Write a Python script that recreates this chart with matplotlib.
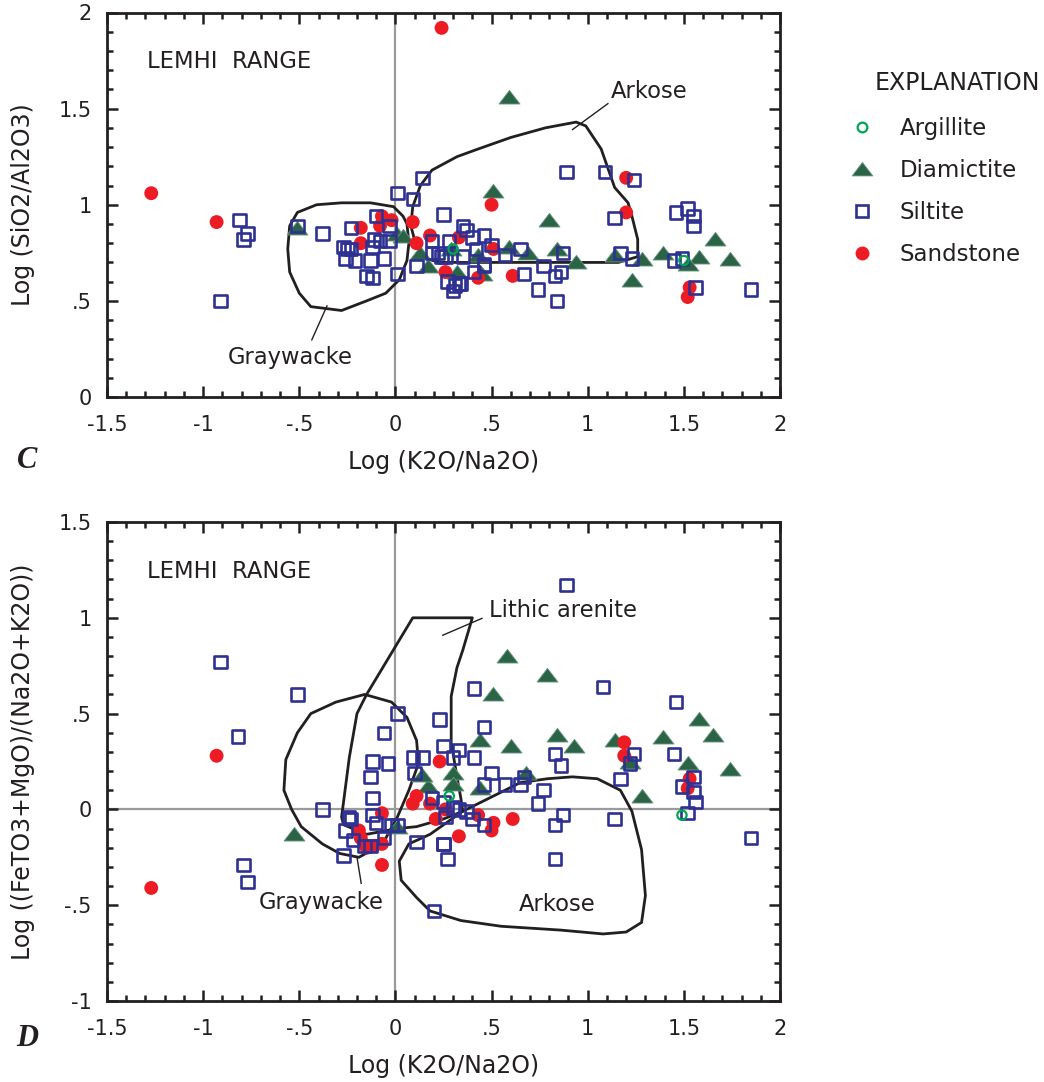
import numpy as np
import matplotlib.pyplot as plt
from matplotlib.lines import Line2D
from matplotlib.patches import Polygon
from matplotlib.ticker import MultipleLocator

plt.rcParams["font.family"] = ["DejaVu Sans"]

INK = "#231f20"
GRID = "#9a9a9a"
SILT = "#2e3192"
SAND = "#ed1c24"
DIAM = "#2b6347"
ARGI = "#00a651"

x_ticks = [-1.5, -1, -0.5, 0, 0.5, 1, 1.5, 2]
x_tick_labels = ["-1.5", "-1", "-.5", "0", ".5", "1", "1.5", "2"]
c_yticks = [0, 0.5, 1, 1.5, 2]
c_ytick_labels = ["0", ".5", "1", "1.5", "2"]
d_yticks = [-1, -0.5, 0, 0.5, 1, 1.5]
d_ytick_labels = ["-1", "-.5", "0", ".5", "1", "1.5"]

# --- panel C: log(K2O/Na2O) vs log(SiO2/Al2O3) ---
c_sand_x = [-1.27, -0.93, 0.24, 1.20, 1.20, 0.50, 0.09, 0.18, 0.33, 0.11, 0.51,
            0.26, 0.43, 0.61, 1.53, 1.52, -0.18, -0.07, -0.02, -0.08, -0.18]
c_sand_y = [1.06, 0.91, 1.92, 1.14, 0.96, 1.00, 0.91, 0.84, 0.83, 0.80, 0.77,
            0.65, 0.62, 0.63, 0.57, 0.52, 0.88, 0.94, 0.92, 0.89, 0.80]

c_silt_x = [-0.81, -0.77, -0.79, -0.91, -0.51, -0.38, -0.23, -0.27, -0.25, -0.23,
            -0.26, -0.21, -0.13, -0.06, -0.10, -0.03, -0.11, -0.08, -0.03, -0.12,
            -0.15, -0.12, 0.01, 0.01, 0.09, 0.14, 0.25, 0.11, 0.19, 0.22,
            0.26, 0.27, 0.31, 0.30, 0.34, 0.35, 0.37, 0.40, 0.46, 0.50,
            0.42, 0.35, 0.46, 0.41, 0.28, 0.24, 0.33, 0.57, 0.65, 0.67,
            0.74, 0.77, 0.83, 0.86, 0.84, 0.87, 0.89, 1.09, 1.24, 1.14,
            1.17, 1.23, 1.46, 1.52, 1.55, 1.55, 1.45, 1.49, 1.56, 1.85,
            0.19, 0.46]
c_silt_y = [0.92, 0.85, 0.82, 0.50, 0.89, 0.85, 0.88, 0.78, 0.77, 0.77,
            0.72, 0.71, 0.71, 0.72, 0.94, 0.89, 0.82, 0.81, 0.81, 0.78,
            0.63, 0.62, 0.64, 1.06, 1.03, 1.14, 0.95, 0.68, 0.81, 0.75,
            0.73, 0.60, 0.58, 0.55, 0.59, 0.89, 0.87, 0.83, 0.84, 0.79,
            0.77, 0.73, 0.69, 0.65, 0.81, 0.73, 0.59, 0.74, 0.77, 0.64,
            0.56, 0.68, 0.63, 0.65, 0.50, 0.75, 1.17, 1.17, 1.13, 0.93,
            0.75, 0.72, 0.96, 0.98, 0.94, 0.89, 0.71, 0.72, 0.57, 0.56,
            0.75, 0.68]

c_diam_x = [-0.51, 0.01, 0.04, 0.13, 0.17, 0.29, 0.32, 0.43, 0.45, 0.51, 0.59,
            0.59, 0.69, 0.84, 0.94, 0.80, 1.14, 1.28, 1.23, 1.39, 1.58, 1.52,
            1.66, 1.74]
c_diam_y = [0.88, 0.85, 0.84, 0.75, 0.68, 0.77, 0.65, 0.74, 0.64, 1.07, 1.56,
            0.78, 0.75, 0.77, 0.70, 0.92, 0.74, 0.72, 0.61, 0.75, 0.73, 0.69,
            0.82, 0.72]

c_argi_x = [0.30, 1.50]
c_argi_y = [0.77, 0.71]

c_graywacke_x = [-0.51, -0.41, -0.28, -0.13, -0.01, 0.04, 0.06, 0.07, 0.06, 0.02,
                 -0.05, -0.15, -0.28, -0.44, -0.50, -0.55, -0.56, -0.55]
c_graywacke_y = [0.96, 1.00, 1.01, 1.01, 0.99, 0.94, 0.90, 0.80, 0.71, 0.61,
                 0.54, 0.50, 0.45, 0.47, 0.54, 0.65, 0.77, 0.89]
c_arkose_x = [0.16, 0.11, 0.08, 0.09, 0.13, 0.19, 0.32, 0.43, 0.60, 0.78, 0.94,
              0.99, 1.07, 1.14, 1.21, 1.23, 1.26, 1.26, 1.16, 0.28, 0.23]
c_arkose_y = [0.72, 0.78, 0.89, 0.99, 1.10, 1.18, 1.25, 1.29, 1.35, 1.40, 1.43,
              1.41, 1.29, 1.09, 1.01, 0.94, 0.82, 0.73, 0.70, 0.70, 0.70]

# --- panel D: log(K2O/Na2O) vs log((FeTO3+MgO)/(Na2O+K2O)) ---
d_sand_x = [-1.27, -0.93, 0.23, 0.11, 0.09, 0.18, 0.21, 0.26, 0.33, -0.07,
            -0.19, -0.18, -0.15, -0.11, -0.07, -0.07, 0.43, 0.51, 0.50, 0.61,
            1.19, 1.19, 1.53, 1.52]
d_sand_y = [-0.41, 0.28, 0.25, 0.07, 0.03, 0.03, -0.05, 0.00, -0.14, -0.02,
            -0.11, -0.15, -0.20, -0.19, -0.18, -0.29, -0.03, -0.07, -0.11, -0.05,
            0.35, 0.28, 0.16, 0.11]

d_silt_x = [-0.91, -0.82, -0.51, -0.79, -0.77, -0.38, 0.01, -0.06, -0.12, -0.04,
            -0.13, -0.12, -0.12, -0.10, -0.24, -0.23, -0.26, -0.22, -0.27, -0.16,
            -0.13, -0.06, 0.01, -0.02, 0.11, 0.25, 0.27, 0.23, 0.41, 0.46,
            0.25, 0.33, 0.09, 0.14, 0.10, 0.30, 0.41, 0.50, 0.46, 0.57,
            0.19, 0.25, 0.30, 0.33, 0.37, 0.26, 0.40, 0.46, 0.20, 0.89,
            1.08, 1.46, 0.83, 0.86, 1.24, 1.22, 1.45, 1.17, 1.49, 1.55,
            1.55, 1.56, 1.52, 0.65, 0.67, 0.77, 0.74, 0.87, 0.83, 1.14,
            1.85, 0.25, 0.83]
d_silt_y = [0.77, 0.38, 0.60, -0.29, -0.38, 0.00, 0.50, 0.40, 0.25, 0.24,
            0.17, 0.06, -0.03, -0.07, -0.04, -0.05, -0.11, -0.16, -0.24, -0.19,
            -0.19, -0.15, -0.08, -0.08, -0.17, -0.18, -0.26, 0.47, 0.63, 0.43,
            0.33, 0.31, 0.27, 0.27, 0.19, 0.27, 0.27, 0.19, 0.13, 0.13,
            0.06, 0.04, 0.01, 0.00, -0.01, -0.04, -0.05, -0.08, -0.53, 1.17,
            0.64, 0.56, 0.29, 0.23, 0.29, 0.24, 0.29, 0.16, 0.12, 0.17,
            0.09, 0.04, -0.02, 0.13, 0.17, 0.10, 0.03, -0.03, -0.08, -0.05,
            -0.15, -0.18, -0.26]

d_diam_x = [-0.53, 0.01, 0.58, 0.79, 0.51, 0.44, 0.60, 0.84, 0.93, 1.14,
            1.39, 1.58, 1.65, 1.74, 1.52, 1.22, 1.28, 0.68, 0.30, 0.30,
            0.44, 0.17, 0.14]
d_diam_y = [-0.13, -0.09, 0.80, 0.70, 0.60, 0.36, 0.33, 0.39, 0.33, 0.36,
            0.38, 0.47, 0.39, 0.21, 0.24, 0.25, 0.07, 0.19, 0.19, 0.13,
            0.11, 0.12, 0.18]

d_argi_x = [0.28, 1.49]
d_argi_y = [0.07, -0.03]

d_graywacke_x = [-0.16, -0.02, 0.06, 0.11, 0.12, 0.07, 0.01, -0.05, -0.10, -0.19,
                 -0.29, -0.38, -0.49, -0.54, -0.58, -0.57, -0.51, -0.44, -0.31]
d_graywacke_y = [0.60, 0.56, 0.48, 0.36, 0.24, 0.10, -0.04, -0.15, -0.20, -0.25,
                 -0.23, -0.18, -0.09, 0.00, 0.10, 0.26, 0.40, 0.50, 0.56]
d_lithic_x = [0.09, 0.40, 0.35, 0.32, 0.29, 0.29, 0.32, 0.34, 0.35, 0.25,
              0.11, 0.01, -0.15, -0.27, -0.28, -0.24, -0.20, -0.15]
d_lithic_y = [1.00, 1.00, 0.83, 0.74, 0.59, 0.35, 0.17, 0.06, -0.01, -0.05,
              -0.09, -0.10, -0.13, -0.08, -0.04, 0.27, 0.50, 0.60]
d_arkose_x = [0.07, 0.18, 0.35, 0.49, 0.65, 0.79, 0.92, 1.05, 1.17, 1.23,
              1.28, 1.30, 1.28, 1.20, 1.08, 0.86, 0.55, 0.34, 0.18, 0.11,
              0.03, 0.02]
d_arkose_y = [-0.18, -0.13, -0.01, 0.06, 0.14, 0.16, 0.17, 0.16, 0.10, -0.01,
              -0.21, -0.45, -0.59, -0.64, -0.65, -0.63, -0.61, -0.58, -0.53, -0.46,
              -0.37, -0.27]

# flattened triangle used for the diamictite symbol
TRI = [(-1.0, -0.62), (1.0, -0.62), (0.0, 0.68), (-1.0, -0.62)]
LABEL_FS = 16.3
AXIS_FS = 17


def _field(ax, xs, ys):
    ax.add_patch(Polygon(np.column_stack([xs, ys]), closed=True, fill=False,
                         ec=INK, lw=2.0, joinstyle="round", zorder=2))


def _points(ax, sx, sy, tx, ty, qx, qy, ax_, ay_):
    ax.scatter(tx, ty, marker=TRI, s=230, c=DIAM, edgecolors="#6f9a84",
               linewidths=0.6, zorder=3)
    ax.scatter(sx, sy, marker="o", s=100, c=SAND, edgecolors="none", zorder=4)
    ax.scatter(qx, qy, marker="s", s=80, facecolors="none", edgecolors=SILT,
               linewidths=1.9, zorder=5)
    ax.scatter(ax_, ay_, marker="o", s=45, facecolors="none", edgecolors=ARGI,
               linewidths=1.6, zorder=6)


def _style(ax, ylim, yticks, ylabels, ylabel):
    ax.set_xlim(-1.5, 2)
    ax.set_ylim(*ylim)
    ax.set_xticks(x_ticks)
    ax.set_xticklabels(x_tick_labels)
    ax.set_yticks(yticks)
    ax.set_yticklabels(ylabels)
    ax.xaxis.set_minor_locator(MultipleLocator(0.1))
    ax.yaxis.set_minor_locator(MultipleLocator(0.1))
    ax.tick_params(which="both", direction="in", top=True, right=True,
                   width=1.8, color=INK, labelcolor=INK, labelsize=15)
    ax.tick_params(axis="x", pad=13)
    ax.tick_params(axis="y", pad=11)
    ax.tick_params(which="major", length=8)
    ax.tick_params(which="minor", length=4.5)
    for sp in ax.spines.values():
        sp.set_linewidth(2.0)
        sp.set_color(INK)
    ax.axvline(0, color=GRID, lw=1.6, zorder=1)
    ax.set_xlabel("Log (K2O/Na2O)", fontsize=AXIS_FS, color=INK, labelpad=11)
    ax.set_ylabel(ylabel, fontsize=AXIS_FS, color=INK, labelpad=17)


fig = plt.figure(figsize=(10.44, 10.82), dpi=100)
ax_c = fig.add_axes([107 / 1044, 1 - 397 / 1082, 673 / 1044, 384.5 / 1082])
ax_d = fig.add_axes([107 / 1044, 1 - 1001 / 1082, 673 / 1044, 479 / 1082])

# panel C
_style(ax_c, (0, 2), c_yticks, c_ytick_labels, "Log (SiO2/Al2O3)")
_field(ax_c, c_graywacke_x, c_graywacke_y)
_field(ax_c, c_arkose_x, c_arkose_y)
_points(ax_c, c_sand_x, c_sand_y, c_diam_x, c_diam_y, c_silt_x, c_silt_y,
        c_argi_x, c_argi_y)
ax_c.text(-1.29, 1.745, "LEMHI  RANGE", fontsize=LABEL_FS, color=INK, va="center")
ax_c.text(-0.545, 0.205, "Graywacke", fontsize=LABEL_FS, color=INK, ha="center", va="center")
ax_c.plot([-0.435, -0.356], [0.297, 0.474], color=INK, lw=1.0, zorder=2)
ax_c.text(1.32, 1.59, "Arkose", fontsize=LABEL_FS, color=INK, ha="center", va="center")
ax_c.plot([1.105, 0.921], [1.526, 1.391], color=INK, lw=1.0, zorder=2)

# panel D
_style(ax_d, (-1, 1.5), d_yticks, d_ytick_labels, "Log ((FeTO3+MgO)/(Na2O+K2O))")
ax_d.axhline(0, color=GRID, lw=1.6, zorder=1)
_field(ax_d, d_graywacke_x, d_graywacke_y)
_field(ax_d, d_lithic_x, d_lithic_y)
_field(ax_d, d_arkose_x, d_arkose_y)
_points(ax_d, d_sand_x, d_sand_y, d_diam_x, d_diam_y, d_silt_x, d_silt_y,
        d_argi_x, d_argi_y)
ax_d.text(-1.29, 1.243, "LEMHI  RANGE", fontsize=LABEL_FS, color=INK, va="center")
ax_d.text(0.487, 1.039, "Lithic arenite", fontsize=LABEL_FS, color=INK, va="center")
ax_d.plot([0.45, 0.246], [0.997, 0.909], color=INK, lw=1.0, zorder=2)
ax_d.text(-0.387, -0.486, "Graywacke", fontsize=LABEL_FS, color=INK, ha="center", va="center")
ax_d.plot([-0.178, -0.199], [-0.386, -0.256], color=INK, lw=1.0, zorder=2)
ax_d.text(0.843, -0.496, "Arkose", fontsize=LABEL_FS, color=INK, ha="center", va="center")

for letter, ypix in (("C", 460), ("D", 1038)):
    fig.text(27 / 1044, 1 - ypix / 1082, letter, fontsize=22, family="Liberation Serif",
             weight="bold", style="italic", color=INK, ha="center", va="center")

handles = [
    Line2D([], [], ls="none", marker="o", ms=7, mfc="none", mec=ARGI, mew=1.6),
    Line2D([], [], ls="none", marker=TRI, ms=15, mfc=DIAM, mec="#6f9a84", mew=0.6),
    Line2D([], [], ls="none", marker="s", ms=8.5, mfc="none", mec=SILT, mew=1.9),
    Line2D([], [], ls="none", marker="o", ms=10, mfc=SAND, mec="none"),
]
fig.text(875 / 1044, 1 - 83 / 1082, "EXPLANATION", fontsize=17, color=INK, va="center")
fig.legend(handles, ["Argillite", "Diamictite", "Siltite", "Sandstone"],
           loc="upper left", bbox_to_anchor=(848 / 1044, 1 - 117 / 1082),
           frameon=False, fontsize=16.5, labelspacing=0.83, handlelength=1.2,
           handletextpad=1.06, borderpad=0, borderaxespad=0, labelcolor=INK)

fig.savefig("out.png", dpi=100)
